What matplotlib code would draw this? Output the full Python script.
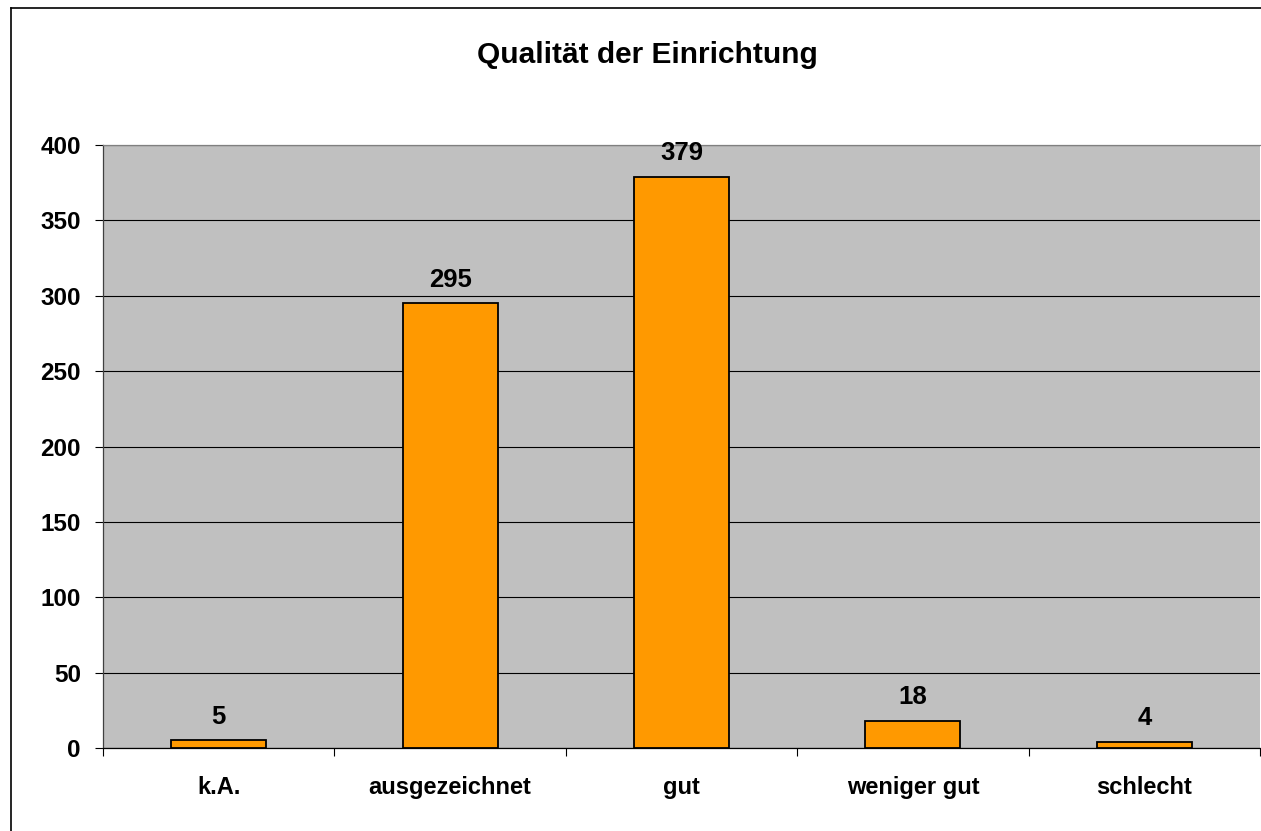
import matplotlib.pyplot as plt
from matplotlib.lines import Line2D
import numpy as np

plt.rcParams['font.family'] = ['Liberation Sans', 'DejaVu Sans']

categories = ['k.A.', 'ausgezeichnet', 'gut', 'weniger gut', 'schlecht']
values = [5, 295, 379, 18, 4]
yticks = [0, 50, 100, 150, 200, 250, 300, 350, 400]

fig = plt.figure(figsize=(12.61, 8.31), dpi=100)
ax = fig.add_axes([103/1261, 1-748/831, 1157/1261, 603/831])
ax.set_facecolor('#C0C0C0')

x = np.arange(len(categories))
bars = ax.bar(x, values, width=0.41, color='#FF9900', edgecolor='black', linewidth=1.3, zorder=3)

for xi, v in zip(x, values):
    ax.annotate(str(v), (xi, v), xytext=(0, 12), textcoords='offset points',
                ha='center', va='baseline', fontsize=18.5, fontweight='bold')

ax.set_xlim(-0.5, len(categories) - 0.5)
ax.set_ylim(0, 400)
ax.set_yticks(yticks)
ax.set_yticklabels([str(t) for t in yticks], fontsize=17.5, fontweight='bold')
ax.yaxis.grid(True, color='black', linewidth=0.8, zorder=1)
ax.set_axisbelow(True)

ax.set_xticks(x)
ax.set_xticklabels(categories, fontsize=17, fontweight='bold')
ax.set_xticks(np.arange(len(categories) + 1) - 0.5, minor=True)
ax.tick_params(axis='x', which='major', length=0, pad=20)
ax.tick_params(axis='x', which='minor', length=6, width=0.8, direction='out', color='black')
ax.tick_params(axis='y', length=6, width=0.8, direction='out', pad=10)

ax.spines['right'].set_visible(False)
ax.spines['top'].set_color('#808080')
ax.spines['left'].set_color('#404040')
ax.spines['bottom'].set_color('black')
for s in ax.spines.values():
    s.set_linewidth(0.9)

fig.text(647/1261, 1-55/831, 'Qualität der Einrichtung', ha='center', va='center',
         fontsize=21.5, fontweight='bold')

# chart border
fig.add_artist(Line2D([11/1261, 11/1261], [0, 1-7.5/831], color='black', linewidth=1.2))
fig.add_artist(Line2D([11/1261, 1], [1-7.5/831, 1-7.5/831], color='black', linewidth=1.2))

fig.savefig('out.png', dpi=100)
